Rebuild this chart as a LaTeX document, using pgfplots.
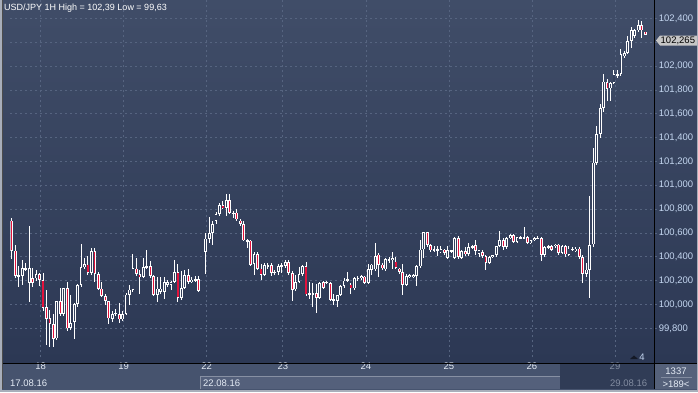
\documentclass[border=0pt]{standalone}
\usepackage{fontspec}
\setmainfont{Liberation Sans}
\usepackage{pgfplots}
\usepackage{pgfplotstable}
\pgfplotsset{compat=1.18}
\definecolor{bgtop}{RGB}{64,77,104}
\definecolor{bgbot}{RGB}{44,56,84}
\definecolor{gridc}{RGB}{86,100,128}
\definecolor{redc}{RGB}{226,18,60}
\definecolor{hollowc}{RGB}{52,64,92}
\definecolor{panel}{RGB}{70,83,110}
\definecolor{panellight}{RGB}{84,96,123}
\definecolor{paneldark}{RGB}{48,60,86}
\definecolor{labc}{RGB}{196,214,240}
\definecolor{xlabc}{RGB}{228,235,245}
\definecolor{edgec}{RGB}{168,174,186}
\definecolor{graytxt}{RGB}{130,140,160}

\pgfplotstableread{
i o h l c
0 100.705 100.722 100.378 100.454
1 100.454 100.504 100.224 100.238
2 100.236 100.322 100.146 100.247
3 100.238 100.378 100.163 100.303
4 100.294 100.350 100.280 100.303
5 100.182 100.663 100.023 100.308
6 100.219 100.303 100.150 100.182
7 100.219 100.286 100.200 100.258
8 100.258 100.266 100.154 100.210
9 100.202 100.266 99.950 99.973
10 99.978 100.126 99.665 99.883
11 99.889 99.959 99.643 99.839
12 99.839 99.922 99.643 99.715
13 99.715 100.029 99.707 100.029
14 100.029 100.140 99.900 99.925
15 99.925 100.140 99.900 100.140
16 100.140 100.191 99.780 99.799
17 99.805 100.084 99.790 99.847
18 99.853 100.015 99.715 100.006
19 100.006 100.174 99.980 100.163
20 100.163 100.504 100.146 100.314
21 100.314 100.390 100.300 100.336
22 100.336 100.406 100.250 100.266
23 100.266 100.476 100.250 100.448
24 100.448 100.476 100.191 100.258
25 100.258 100.270 100.120 100.135
26 100.135 100.191 100.060 100.071
27 100.071 100.090 100.000 100.029
28 100.029 100.034 99.839 99.883
29 99.883 99.945 99.855 99.922
30 99.922 99.960 99.900 99.931
31 99.922 100.012 99.847 99.875
32 99.875 99.950 99.860 99.922
33 99.922 100.096 99.910 100.084
34 100.084 100.160 100.000 100.126
35 100.126 100.426 100.110 100.303
36 100.303 100.392 100.240 100.258
37 100.258 100.286 100.090 100.230
38 100.230 100.392 100.220 100.314
39 100.314 100.454 100.300 100.322
40 100.322 100.364 100.220 100.238
41 100.238 100.250 100.070 100.084
42 100.084 100.230 100.023 100.135
43 100.107 100.230 100.090 100.135
44 100.107 100.230 100.043 100.191
45 100.168 100.210 100.150 100.191
46 100.168 100.200 100.120 100.191
47 100.191 100.375 100.180 100.275
48 100.275 100.342 100.023 100.057
49 100.057 100.286 100.040 100.140
50 100.140 100.294 100.130 100.247
51 100.247 100.294 100.170 100.191
52 100.191 100.230 100.180 100.210
53 100.205 100.240 100.190 100.216
54 100.216 100.238 100.107 100.118
56 100.443 100.602 100.261 100.554
57 100.554 100.733 100.518 100.602
58 100.602 100.700 100.499 100.677
59 100.705 100.778 100.672 100.761
60 100.761 100.854 100.742 100.834
61 100.834 100.868 100.800 100.812
62 100.812 100.929 100.742 100.873
63 100.873 100.929 100.761 100.770
64 100.761 100.789 100.728 100.770
65 100.770 100.798 100.700 100.714
66 100.705 100.714 100.660 100.677
67 100.677 100.700 100.532 100.538
68 100.532 100.550 100.476 100.538
69 100.538 100.546 100.320 100.331
70 100.342 100.443 100.252 100.426
71 100.426 100.440 100.290 100.303
72 100.303 100.342 100.202 100.252
73 100.252 100.350 100.238 100.331
74 100.322 100.350 100.300 100.331
75 100.331 100.350 100.238 100.266
76 100.266 100.290 100.250 100.275
77 100.275 100.342 100.252 100.322
78 100.322 100.350 100.261 100.331
79 100.322 100.378 100.303 100.359
80 100.359 100.378 100.250 100.266
81 100.266 100.280 100.029 100.127
82 100.127 100.252 100.113 100.191
83 100.191 100.314 100.180 100.258
84 100.258 100.330 100.240 100.322
85 100.322 100.359 100.070 100.085
86 100.085 100.191 100.051 100.093
87 100.085 100.182 99.978 100.093
88 100.093 100.173 99.931 100.057
89 100.057 100.191 100.050 100.182
90 100.191 100.200 100.130 100.141
91 100.182 100.200 100.170 100.191
92 100.182 100.191 100.029 100.043
93 100.034 100.085 99.995 100.043
94 100.034 100.085 99.978 100.079
95 100.079 100.163 100.070 100.154
96 100.154 100.219 100.140 100.202
97 100.202 100.275 100.190 100.210
98 100.168 100.180 100.090 100.135
99 100.135 100.230 100.120 100.219
100 100.219 100.240 100.200 100.224
101 100.224 100.247 100.210 100.238
102 100.233 100.238 100.170 100.182
103 100.182 100.342 100.170 100.294
104 100.294 100.342 100.252 100.336
105 100.294 100.518 100.280 100.406
106 100.420 100.434 100.230 100.336
107 100.336 100.350 100.290 100.303
108 100.294 100.392 100.280 100.378
109 100.370 100.400 100.350 100.378
110 100.375 100.440 100.300 100.392
111 100.360 100.398 100.300 100.310
112 100.303 100.310 100.260 100.275
113 100.275 100.336 100.079 100.163
114 100.163 100.252 100.154 100.238
115 100.230 100.260 100.220 100.244
116 100.230 100.258 100.220 100.244
117 100.238 100.336 100.154 100.322
118 100.322 100.538 100.310 100.462
119 100.462 100.610 100.392 100.610
120 100.610 100.610 100.480 100.498
121 100.498 100.510 100.440 100.454
122 100.454 100.490 100.440 100.462
123 100.454 100.490 100.406 100.462
124 100.442 100.490 100.430 100.462
125 100.462 100.470 100.420 100.434
126 100.392 100.490 100.380 100.454
127 100.454 100.460 100.430 100.442
128 100.392 100.566 100.380 100.560
129 100.560 100.574 100.387 100.398
130 100.392 100.460 100.380 100.448
131 100.448 100.482 100.410 100.426
132 100.426 100.518 100.410 100.482
133 100.482 100.500 100.470 100.490
134 100.498 100.538 100.420 100.448
135 100.426 100.454 100.400 100.454
136 100.442 100.454 100.390 100.406
137 100.406 100.415 100.294 100.350
138 100.350 100.410 100.340 100.398
139 100.398 100.420 100.390 100.415
140 100.415 100.490 100.400 100.490
141 100.490 100.616 100.480 100.538
142 100.538 100.555 100.460 100.482
143 100.482 100.570 100.470 100.560
144 100.560 100.590 100.550 100.582
145 100.582 100.594 100.520 100.527
146 100.527 100.570 100.520 100.566
147 100.560 100.575 100.550 100.566
148 100.560 100.650 100.550 100.566
149 100.566 100.575 100.510 100.518
150 100.518 100.545 100.510 100.538
151 100.538 100.565 100.530 100.560
152 100.555 100.574 100.550 100.560
153 100.560 100.566 100.370 100.415
154 100.415 100.490 100.400 100.482
155 100.482 100.500 100.470 100.490
156 100.490 100.500 100.450 100.462
157 100.490 100.510 100.470 100.504
158 100.504 100.510 100.420 100.434
159 100.434 100.500 100.420 100.490
160 100.490 100.500 100.400 100.420
161 100.420 100.490 100.410 100.470
162 100.462 100.480 100.450 100.470
163 100.454 100.480 100.440 100.470
164 100.470 100.482 100.380 100.398
165 100.398 100.420 100.182 100.258
166 100.258 100.350 100.230 100.294
167 100.294 100.910 100.057 100.498
168 100.504 101.315 100.480 101.190
169 101.190 101.497 101.170 101.430
170 101.430 101.680 101.400 101.650
171 101.650 101.935 101.620 101.869
172 101.869 101.890 101.706 101.812
173 101.812 101.870 101.710 101.860
174 101.860 101.970 101.850 101.935
175 101.925 101.970 101.900 101.935
176 101.935 102.140 101.920 102.098
177 102.084 102.130 102.070 102.112
178 102.112 102.250 102.100 102.210
179 102.210 102.330 102.150 102.300
180 102.252 102.310 102.240 102.300
181 102.300 102.390 102.290 102.344
182 102.344 102.380 102.238 102.300
183 102.290 102.290 102.260 102.265
}\candles

\begin{document}
\begin{tikzpicture}[x=1pt,y=1pt]
\useasboundingbox (0,0) rectangle (698,392);
% backgrounds
\shade[top color=bgtop,bottom color=bgbot] (0,29) rectangle (698,392);
\fill[panel] (0,0) rectangle (698,29);
\fill[panellight] (199.5,3) rectangle (560,15.5);
\draw[panellight!70!white, line width=0.6pt] (199.8,3) -- (199.8,15.5) -- (560,15.5);
\fill[paneldark] (560,3) rectangle (654,28);
\fill[panel!92!white] (655,3) rectangle (698,28.5);
\begin{axis}[
  at={(3,29)}, anchor=south west, scale only axis,
  width=651pt, height=363pt,
  xmin=-0.43, xmax=187.7, ymin=99.556, ymax=102.601,
  axis line style={draw=none},
  major tick length=0pt,
  tick style={draw=none},
  xtick={8.3,32.3,56.3,78.3,102.3,126.3,150.3,174.3},
  xticklabels={18,19,22,23,24,25,26,{\textcolor{graytxt}{29}}},
  ytick={99.8,100,100.2,100.4,100.6,100.8,101,101.2,101.4,101.6,101.8,102,102.2,102.4},
  yticklabels={{99,800},{100,000},{100,200},{100,400},{100,600},{100,800},{101,000},{101,200},{101,400},{101,600},{101,800},{102,000},{102,200},{102,400}},
  yticklabel pos=right,
  grid=major,
  major grid style={gridc, dash pattern=on 2pt off 3pt, line width=0.7pt},
  xticklabel style={anchor=center, yshift=-9pt, font=\fontsize{9.5}{10}\selectfont, text=xlabc},
  yticklabel style={anchor=west, xshift=-6pt, font=\fontsize{9.5}{10}\selectfont, text=labc},
]
% wicks
\addplot[draw=none, mark=none, forget plot,
  error bars/.cd, y dir=both, y explicit, error mark=none,
  error bar style={draw=white, line width=1pt}]
  table[x=i, y expr={(\thisrow{h}+\thisrow{l})/2}, y error expr={(\thisrow{h}-\thisrow{l})/2}] {\candles};
% body outlines
\addplot[draw=none, mark=none, forget plot,
  error bars/.cd, y dir=both, y explicit, error mark=none,
  error bar style={draw=white, line width=2.8pt}]
  table[x=i, y expr={(\thisrow{o}+\thisrow{c})/2}, y error expr={max(abs(\thisrow{c}-\thisrow{o})/2,0.004)}] {\candles};
% bearish fill
\addplot[draw=none, mark=none, forget plot,
  error bars/.cd, y dir=both, y explicit, error mark=none,
  error bar style={draw=redc, line width=1.1pt}]
  table[x=i, y expr={(\thisrow{o}+\thisrow{c})/2}, y error expr={max(abs(\thisrow{c}-\thisrow{o})/2-0.0065,0)*(\thisrow{c}<\thisrow{o})}] {\candles};
% bullish hollow
\addplot[draw=none, mark=none, forget plot,
  error bars/.cd, y dir=both, y explicit, error mark=none,
  error bar style={draw=hollowc, line width=1.1pt}]
  table[x=i, y expr={(\thisrow{o}+\thisrow{c})/2}, y error expr={max(abs(\thisrow{c}-\thisrow{o})/2-0.0065,0)*(\thisrow{c}>\thisrow{o})}] {\candles};
\end{axis}
% frame lines
\draw[black, line width=1pt] (2,29) -- (698,29);
\draw[black, line width=1pt] (654.5,3) -- (654.5,392);
\fill[edgec] (0,0) rectangle (698,2.5);
\fill[edgec] (0,0) rectangle (1.8,392);
\fill[edgec] (696.5,0) rectangle (698,392);
\draw[black!70, line width=0.6pt] (2.2,3) -- (2.2,392);
% title
\node[anchor=west, inner sep=0, text=white, font=\fontsize{9}{10}\selectfont] at (4,384) {USD/JPY 1H High = 102,39 Low = 99,63};
% price tag
\fill[gray!45] (656,351.5) -- (660,356.5) -- (697,356.5) -- (697,346.5) -- (660,346.5) -- cycle;
\node[anchor=west, inner sep=0, text=black, font=\fontsize{9.5}{10}\selectfont] at (660.5,351.5) {102,265};
% marker
\fill[black!55!bgbot] (630,33) -- (634,36.5) -- (638,33) -- cycle;
\node[anchor=center, inner sep=0, text=labc, font=\fontsize{9.5}{10}\selectfont] at (642,35) {4};
% bottom texts
\node[anchor=west, inner sep=0, text=xlabc, font=\fontsize{9.5}{10}\selectfont] at (10,9) {17.08.16};
\node[anchor=west, inner sep=0, text=xlabc, font=\fontsize{9.5}{10}\selectfont] at (203,9) {22.08.16};
\node[anchor=west, inner sep=0, text=graytxt, font=\fontsize{9.5}{10}\selectfont] at (610,9) {29.08.16};
\node[anchor=center, inner sep=0, text=xlabc, font=\fontsize{9.5}{10}\selectfont] at (676,21) {1337};
\draw[graytxt, line width=0.5pt] (661,15) -- (692,15);
\node[anchor=center, inner sep=0, text=xlabc, font=\fontsize{9.5}{10}\selectfont] at (676,8) {>189<};
\end{tikzpicture}
\end{document}
